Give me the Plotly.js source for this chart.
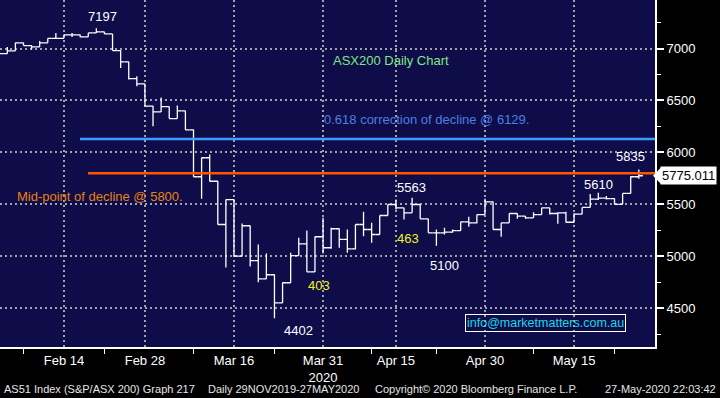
<!DOCTYPE html>
<html><head><meta charset="utf-8">
<script src="https://cdn.plot.ly/plotly-3.0.1.min.js"></script>
<style>html,body{margin:0;padding:0;background:#000;overflow:hidden}</style>
</head><body><div id="chart" style="width:720px;height:398px"></div>
<script>
// ---- data (ASX200 daily) ----
const dates = [
 '2020-02-04','2020-02-05','2020-02-06','2020-02-07','2020-02-10','2020-02-11','2020-02-12','2020-02-13','2020-02-14',
 '2020-02-17','2020-02-18','2020-02-19','2020-02-20','2020-02-21','2020-02-24','2020-02-25','2020-02-26','2020-02-27','2020-02-28',
 '2020-03-02','2020-03-03','2020-03-04','2020-03-05','2020-03-06','2020-03-09','2020-03-10','2020-03-11','2020-03-12','2020-03-13',
 '2020-03-16','2020-03-17','2020-03-18','2020-03-19','2020-03-20','2020-03-23','2020-03-24','2020-03-25','2020-03-26','2020-03-27',
 '2020-03-30','2020-03-31',
 '2020-04-01','2020-04-02','2020-04-03','2020-04-06','2020-04-07','2020-04-08','2020-04-09','2020-04-14','2020-04-15','2020-04-16',
 '2020-04-17','2020-04-20','2020-04-21','2020-04-22','2020-04-23','2020-04-24','2020-04-27','2020-04-28','2020-04-29','2020-04-30',
 '2020-05-01','2020-05-04','2020-05-05','2020-05-06','2020-05-07','2020-05-08','2020-05-11','2020-05-12','2020-05-13','2020-05-14',
 '2020-05-15','2020-05-18','2020-05-19','2020-05-20','2020-05-21','2020-05-22','2020-05-25','2020-05-26','2020-05-27'
];
const openP = [
 6925,6952,6978,7055,7029,7016,7055,7099,7099,
 7132,7132,7112,7151,7161,7141,6981,6872,6711,6660,
 6445,6390,6441,6326,6400,6217,5765,5948,5722,5305,
 5545,5000,5293,4958,4782,4821,4551,4744,5006,5119,
 4849,5187,
 5081,5264,5161,5071,5305,5257,5209,5392,5498,5466,
 5418,5498,5360,5225,5225,5231,5247,5331,5321,5401,
 5524,5257,5321,5411,5385,5369,5401,5466,5411,5418,
 5327,5405,5470,5550,5560,5555,5500,5605,5765
];
const highP = [
 6960,7016,7058,7058,7032,7074,7099,7151,7135,
 7151,7135,7151,7197,7163,7141,6985,6875,6733,6662,
 6448,6528,6443,6451,6402,6220,5950,5979,5725,5545,
 5548,5315,5296,5113,5026,4823,4747,5032,5177,5247,
 5190,5370,
 5273,5266,5257,5305,5428,5321,5392,5498,5546,5466,
 5563,5498,5360,5257,5273,5257,5331,5379,5401,5553,
 5526,5321,5411,5411,5387,5424,5466,5466,5424,5428,
 5413,5470,5600,5610,5580,5557,5605,5770,5835
];
const lowP = [
 6920,6950,6978,7029,6990,7016,7055,7095,7099,
 7112,7110,7112,7151,7141,6981,6814,6701,6637,6445,
 6252,6390,6326,6326,6217,5765,5553,5722,5305,4890,
 5000,4998,4900,4750,4780,4402,4549,4744,5004,4849,
 4847,5026,
 5071,5081,5032,5064,5193,5129,5209,5392,5450,5353,
 5418,5360,5225,5100,5209,5225,5245,5283,5315,5401,
 5257,5187,5321,5360,5360,5369,5401,5401,5312,5325,
 5325,5405,5470,5540,5545,5497,5500,5605,5745
];
const closeP = [
 6952,6978,7055,7029,7016,7055,7099,7099,7132,
 7132,7112,7151,7161,7141,6981,6872,6711,6660,6445,
 6390,6441,6326,6400,6217,5765,5948,5722,5305,5545,
 5000,5293,4958,4782,4821,4551,4744,5006,5119,4849,
 5187,5081,
 5264,5161,5071,5305,5257,5209,5392,5498,5466,5418,
 5498,5360,5225,5225,5231,5247,5331,5321,5401,5524,
 5257,5321,5411,5385,5369,5401,5466,5411,5418,5327,
 5405,5470,5550,5560,5555,5500,5605,5765,5775.011
];
const tickDates  = ['2020-02-14','2020-02-28','2020-03-16','2020-03-31','2020-04-15','2020-04-30','2020-05-15'];
const tickLabels = ['Feb 14','Feb 28','Mar 16','Mar 31<br>2020','Apr 15','Apr 30','May 15'];
const minorTickDates = ['2020-02-07','2020-02-21','2020-03-09','2020-03-23','2020-04-08','2020-04-22','2020-05-08','2020-05-22'];
const yTicks = [4500,5000,5500,6000,6500,7000];
const yMinorTicks = [4250,4750,5250,5750,6250,6750,7250];
const fibLevel = 6129;
const midLevel = 5800;
const peakLabels = ['7197','4402','5563','5100','5610','5835'];
const moveLabels = ['403','463'];

// ---- layout helpers ----
const W = 720, H = 398, PW = 655, PH = 347;
const X = p => p / PW;
const Y = p => 1 - p / PH;
const xs = dates.map((d, i) => i);
const tickVals = tickDates.map(d => dates.indexOf(d)).concat([dates.length + 1]);
const tickText = tickLabels.concat(['']);
const minorVals = minorTickDates.map(d => dates.indexOf(d));
const FONT = 'Liberation Sans, Arial, sans-serif';
const lastClose = closeP[closeP.length - 1];

const trace = {
  type: 'ohlc', x: xs, open: openP, high: highP, low: lowP, close: closeP,
  increasing: {line: {color: '#ffffff', width: 1.3}},
  decreasing: {line: {color: '#ffffff', width: 1.3}},
  tickwidth: 0.5, hoverinfo: 'skip', showlegend: false
};

function txt(text, x, y, color, anchor, size) {
  return {text: text, xref: 'paper', yref: 'paper', x: X(x), y: Y(y), xanchor: anchor || 'left', yanchor: 'middle',
    showarrow: false, font: {family: FONT, size: size || 13, color: color}};
}

const annotations = [
  txt(peakLabels[0], 102, 16, '#ffffff', 'center'),
  txt('ASX200 Daily Chart', 331, 61, '#7fe87f'),
  txt('0.618 correction of decline @ ' + fibLevel + '.', 322, 119, '#4d7fe0'),
  txt('Mid-point of decline @ ' + midLevel + '.', 15, 196, '#e8820e'),
  txt(peakLabels[2], 395, 187, '#ffffff'),
  txt(moveLabels[1], 395, 238, '#f2f21a'),
  txt(moveLabels[0], 306, 285, '#f2f21a'),
  txt(peakLabels[1], 282, 330, '#ffffff'),
  txt(peakLabels[3], 428, 265, '#ffffff'),
  txt(peakLabels[4], 582, 184, '#ffffff'),
  txt(peakLabels[5], 614, 157, '#ffffff'),
  {text: 'info@marketmatters.com.au', xref: 'paper', yref: 'paper', x: X(545.5), y: Y(323), xanchor: 'center', yanchor: 'middle',
   showarrow: false, font: {family: FONT, size: 12.5, color: '#19d8e0'}, bordercolor: '#ffffff', borderwidth: 1, borderpad: 1},
  {text: lastClose.toFixed(3), xref: 'paper', yref: 'y', x: X(660), y: lastClose, xanchor: 'left', yanchor: 'middle',
   showarrow: false, font: {family: FONT, size: 13, color: '#000000'}, bgcolor: '#ffffff', borderpad: 1},
  txt('AS51 Index (S&P/ASX 200) Graph 217', 2, 389, '#e6e6e6', 'left', 11),
  txt('Daily 29NOV2019-27MAY2020', 206, 389, '#e6e6e6', 'left', 11),
  txt('Copyright\u00a9 2020 Bloomberg Finance L.P.', 373, 389, '#e6e6e6', 'left', 11),
  txt('27-May-2020 22:03:42', 718, 389, '#e6e6e6', 'right', 11)
];

const shapes = [
  {type: 'line', xref: 'paper', yref: 'y', x0: X(80), x1: 1, y0: fibLevel, y1: fibLevel, line: {color: '#3d9cff', width: 2.5}},
  {type: 'line', xref: 'paper', yref: 'y', x0: X(88), x1: 1, y0: midLevel, y1: midLevel, line: {color: '#ff5500', width: 2.5}},
  {type: 'path', xref: 'paper', yref: 'y',
   path: 'M ' + X(653) + ' ' + lastClose + ' L ' + X(661) + ' ' + (lastClose + 80) + ' L ' + X(661) + ' ' + (lastClose - 80) + ' Z',
   fillcolor: '#ffffff', line: {width: 0}}
];

const grid = {gridcolor: '#a3a3a3', griddash: '2px,3px', gridwidth: 2};

const layout = {
  width: W, height: H,
  margin: {l: 0, r: W - PW, t: 0, b: H - PH, pad: 0},
  paper_bgcolor: '#000000', plot_bgcolor: '#0f0c4a',
  font: {family: FONT, color: '#ffffff'},
  showlegend: false,
  xaxis: Object.assign({
    range: [0.1, 81], tickmode: 'array', tickvals: tickVals, ticktext: tickText,
    ticks: '', showgrid: true, zeroline: false, showline: true, linecolor: '#ffffff', linewidth: 2,
    tickfont: {family: FONT, size: 13, color: '#ffffff'},
    rangeslider: {visible: false}, fixedrange: true,
    minor: {tickmode: 'array', tickvals: minorVals, ticks: 'outside', ticklen: 5, tickcolor: '#ffffff', tickwidth: 1, showgrid: false}
  }, grid),
  yaxis: Object.assign({
    side: 'right', range: [4125, 7468], tickmode: 'array', tickvals: yTicks, ticktext: yTicks.map(String),
    ticks: 'outside', ticklen: 7, tickwidth: 2, tickcolor: '#ffffff',
    showgrid: true, zeroline: false, showline: true, linecolor: '#ffffff', linewidth: 2,
    tickfont: {family: FONT, size: 13, color: '#ffffff'}, fixedrange: true,
    minor: {tickmode: 'array', tickvals: yMinorTicks, ticks: 'outside', ticklen: 4, tickcolor: '#ffffff', tickwidth: 1, showgrid: false}
  }, grid),
  annotations: annotations,
  shapes: shapes
};

Plotly.newPlot('chart', [trace], layout, {displayModeBar: false, staticPlot: true});
</script>
</body></html>
